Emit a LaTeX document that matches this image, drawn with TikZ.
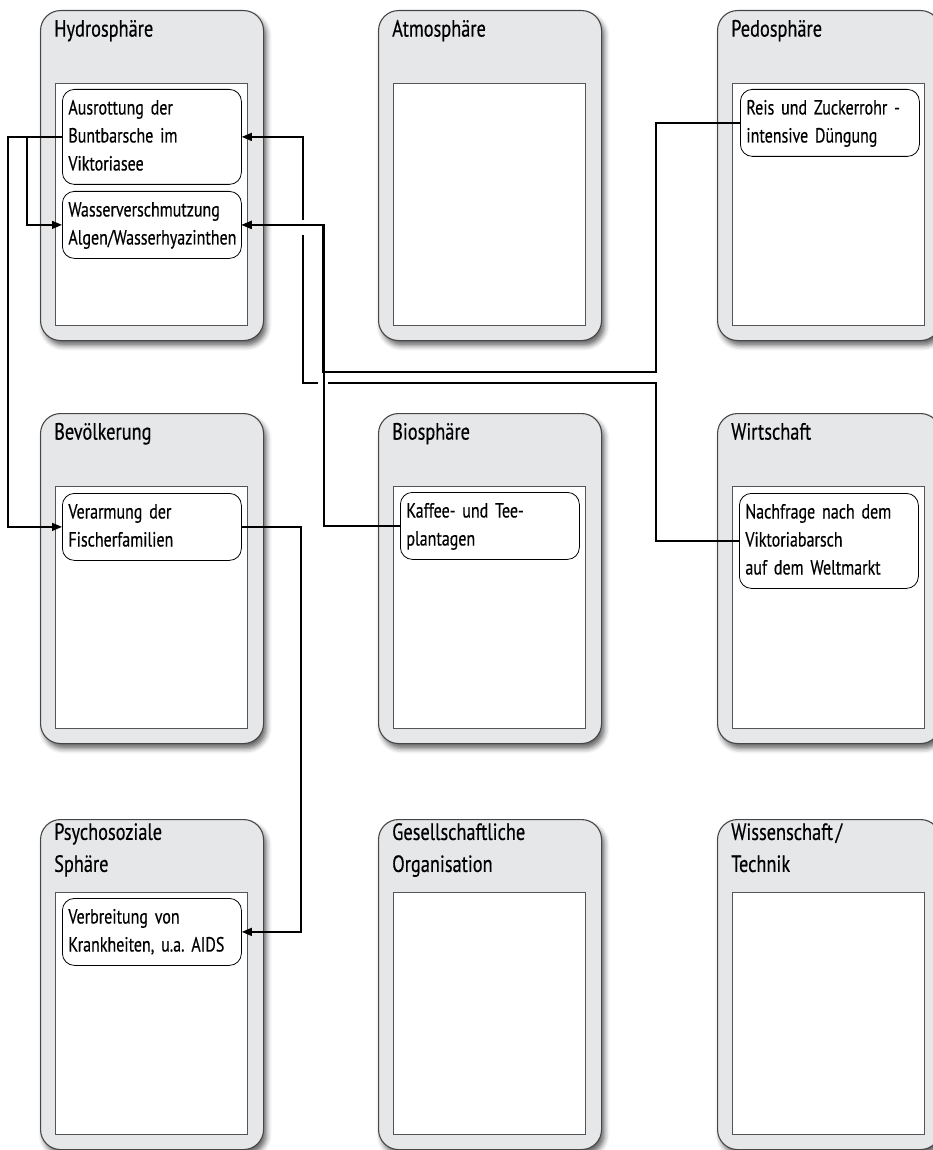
\documentclass[tikz,border=0pt]{standalone}
\usepackage{fontspec}
\setmainfont[FakeStretch=0.78,FakeBold=0.4,WordSpace={0.55,0.3,0.2}]{PT Sans}
\usetikzlibrary{arrows.meta,shadows.blur}
\frenchspacing
\definecolor{panelgray}{RGB}{230,231,233}
\definecolor{panelline}{RGB}{70,70,72}
\definecolor{innerline}{RGB}{85,85,88}
\newcommand{\Panel}[4]{%
  \node[panel] (#1) at (#2,#3) {};
  \node[innerrect] (#1in) at (#2+15,#3+73) {};
  \node[paneltitle] (#1t) at (#2+14,#3+4) {#4};
}
\tikzset{
  panel/.style={anchor=north west, minimum width=223pt, minimum height=330pt,
    inner sep=0pt, rounded corners=20pt, draw=panelline, line width=1.1pt, fill=panelgray,
    blur shadow={shadow xshift=3pt, shadow yshift=-5pt, shadow blur radius=5pt, shadow opacity=60}},
  innerrect/.style={anchor=north west, minimum width=192pt, minimum height=242pt,
    inner sep=0pt, draw=innerline, line width=0.8pt, fill=white},
  paneltitle/.style={anchor=north west, inner sep=0pt, align=left,
    font=\fontsize{23.5}{32}\selectfont, execute at begin node=\strut},
  textbox/.style={anchor=north west, draw=black, line width=0.8pt, fill=white,
    rounded corners=12pt, text width=167pt, inner xsep=6pt, inner ysep=5.5pt, align=left,
    font=\fontsize{20.5}{28}\selectfont, execute at begin node=\strut, execute at end node=\strut},
  conn/.style={draw=black, line width=1.4pt},
  arr/.style={conn, -{Triangle[length=10pt,width=8pt]}}
}
\begin{document}
\begin{tikzpicture}[x=1pt,y=-1pt]
\useasboundingbox (0,0) rectangle (933,1150);
% panels
\Panel{hyd}{40}{10}{Hydrosphäre}
\Panel{atm}{378}{10}{Atmosphäre}
\Panel{ped}{717}{10}{Pedosphäre}
\Panel{bev}{40}{413}{Bevölkerung}
\Panel{bio}{378}{413}{Biosphäre}
\Panel{wir}{717}{413}{Wirtschaft}
\Panel{psy}{40}{819}{Psychosoziale\\Sphäre}
\Panel{ges}{378}{819}{Gesellschaftliche\\Organisation}
\Panel{wis}{717}{819}{Wissenschaft /\\Technik}
% text boxes
\node[textbox] (aus) at (62,89) {Ausrottung der\\Buntbarsche im\\Viktoriasee};
\node[textbox] (wass) at (62,191) {Wasserverschmutzung\\Algen/Wasserhyazinthen};
\node[textbox] (reis) at (740,89) {Reis und Zuckerrohr -\\intensive Düngung};
\node[textbox] (verm) at (62,493) {Verarmung der\\Fischerfamilien};
\node[textbox] (kaf) at (400,492) {Kaffee- und Tee-\\plantagen};
\node[textbox] (nach) at (739,493) {Nachfrage nach dem\\Viktoriabarsch\\auf dem Weltmarkt};
\node[textbox] (verb) at (62,898) {Verbreitung von\\Krankheiten, u.a. AIDS};
% connectors
\draw[arr] (nach.west) -| (656,383) -- (303,383) |- (aus.east);
\fill[white] (299,220) rectangle (307,235);
\fill[white] (318,378) rectangle (328,388);
\path (wass.east) ++(82,0) coordinate (wj);
\draw[arr] (reis.west) -| (656,372) -- (323,372) |- (wass.east);
\draw[arr] (kaf.west) -| (wj) -- (wass.east);
\draw[arr] (aus.west) -- ++(-54,0) |- (verm.west);
\draw[arr] (aus.west) -- ++(-35,0) |- (wass.west);
\draw[arr] (verm.east) -- ++(59,0) |- (verb.east);
\end{tikzpicture}
\end{document}
